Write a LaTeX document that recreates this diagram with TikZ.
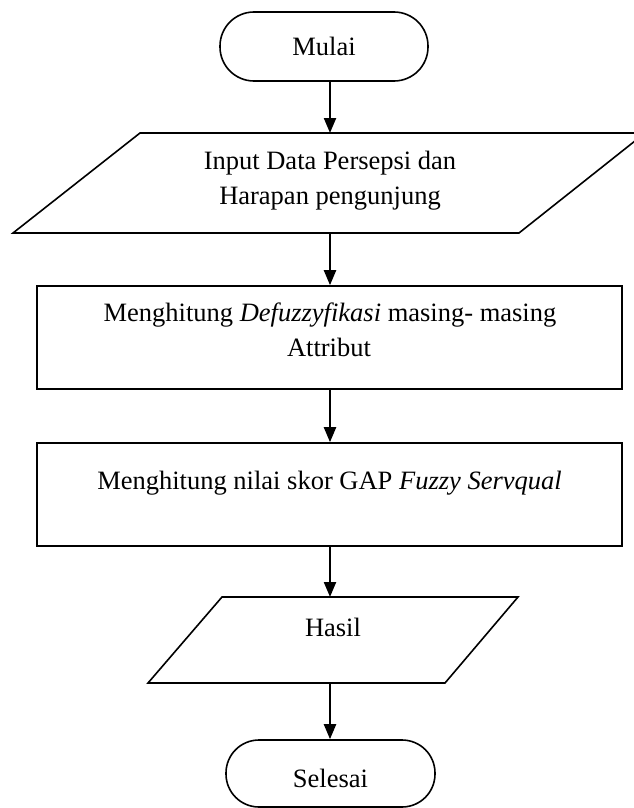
\documentclass[tikz,border=0pt]{standalone}
\usepackage{fontspec}
\setmainfont{Liberation Serif}
\usetikzlibrary{arrows.meta}
\begin{document}
\begin{tikzpicture}[x=1pt,y=-1pt,
  box/.style={draw=black, line width=1.6pt, inner sep=0pt},
  shapeline/.style={draw=black, line width=1.6pt, line join=miter},
  ghost/.style={inner sep=0pt, outer sep=0pt},
  conn/.style={-{Triangle[length=15pt,width=12pt]}, line width=2.2pt},
  lbl/.style={anchor=base, inner sep=0pt, font=\fontsize{26.5}{34}\selectfont}]
\useasboundingbox (0,0) rectangle (634,808);
\clip (0,0) rectangle (634,808);

% Mulai
\node[box, rounded corners=34pt, minimum width=208pt, minimum height=69pt] (mulai) at (324,46.5) {};
\node[lbl] (tmulai) at (324,56) {Mulai};

% Input parallelogram
\node[ghost, minimum width=506pt, minimum height=100pt] (input) at (330,183) {};
\draw[shapeline] (13,233) -- (519,233) -- (645,133) -- (140,133) -- cycle;
\node[lbl] (tin1) at (330,169) {Input Data Persepsi dan};
\node[lbl] (tin2) at (330,204) {Harapan pengunjung};

% Rect 1
\node[box, minimum width=585pt, minimum height=103pt] (defuz) at (329.5,337.5) {};
\node[lbl] (td1) at (330,321) {Menghitung \textit{Defuzzyfikasi} masing- masing};
\node[lbl] (td2) at (329,356) {Attribut};

% Rect 2
\node[box, minimum width=585pt, minimum height=103pt] (gap) at (329.5,494.5) {};
\node[lbl] (tg1) at (329.5,489) {Menghitung nilai skor GAP \textit{Fuzzy Servqual}};

% Hasil parallelogram
\node[ghost, minimum width=297pt, minimum height=86pt] (hasil) at (333,640) {};
\draw[shapeline] (148,683) -- (445,683) -- (518,597) -- (222,597) -- cycle;
\node[lbl] (thasil) at (333,636) {Hasil};

% Selesai
\node[box, rounded corners=33pt, minimum width=209pt, minimum height=67pt] (selesai) at (330.5,773.5) {};
\node[lbl] (tselesai) at (330.5,787) {Selesai};

% Connectors
\draw[conn] (mulai.south -| input.north) -- (input.north);
\draw[conn] (input.south) -- (input.south |- defuz.north);
\draw[conn] (defuz.south -| input.south) -- (input.south |- gap.north);
\draw[conn] (gap.south -| input.south) -- (input.south |- hasil.north);
\draw[conn] (hasil.south -| input.south) -- (input.south |- selesai.north);
\end{tikzpicture}
\end{document}
